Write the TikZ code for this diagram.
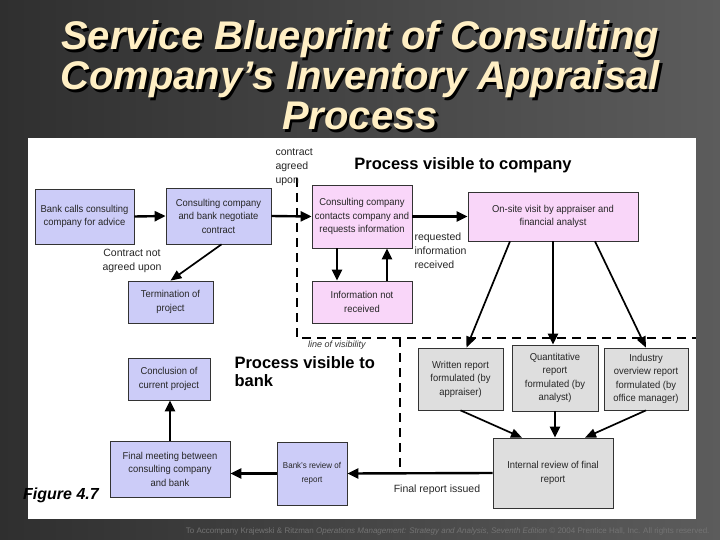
\documentclass[tikz,border=0pt]{standalone}
\usepackage{fontspec}
\setmainfont{Liberation Sans}
\newfontfamily\boxfont[FakeStretch=0.94]{Liberation Sans}
\usetikzlibrary{arrows.meta}
\definecolor{bluebox}{HTML}{CCCCF8}
\definecolor{pinkbox}{HTML}{F9D6F9}
\definecolor{graybox}{HTML}{DEDEDE}
\definecolor{titlecream}{HTML}{FFEFC4}
\definecolor{slidedark}{HTML}{2F2F2F}
\definecolor{slidelight}{HTML}{5C5C5C}
\tikzset{
  proc/.style={draw=black!80, line width=0.7pt, align=center, inner sep=0pt,
    font=\boxfont\fontsize{10}{13.5}\selectfont, text=black!85},
  boxsize/.style 2 args={minimum width=#1, minimum height=#2},
  bankproc/.style={proc, fill=bluebox},
  compproc/.style={proc, fill=pinkbox},
  backproc/.style={proc, fill=graybox},
  flow/.style={line width=2.4pt, -{Triangle[length=11pt,width=10pt]}},
  slantflow/.style={line width=1.7pt, -{Triangle[length=11pt,width=9pt]}},
  visline/.style={line width=1.8pt, dash pattern=on 9pt off 6pt},
  tag/.style={font=\fontsize{10.5}{14}\selectfont, text=black!85},
  heading/.style={font=\fontsize{16.5}{18}\selectfont\bfseries, align=left},
  titletext/.style={anchor=north, align=center,
    font=\fontsize{40}{40}\selectfont\bfseries\itshape},
}

\begin{document}
\begin{tikzpicture}[x=1pt,y=-1pt]
        \useasboundingbox (0,0) rectangle (720,540);
        \shade[left color=slidedark, right color=slidelight] (0,0) rectangle (720,540);
        \fill[white] (28,138) rectangle (696,519);

        \node[titletext, text=black] (titleshadow) at (362.5,19.5) {Service Blueprint of Consulting\\Company’s Inventory Appraisal\\Process};
        \node[titletext, text=titlecream] (title) at (360,17) {Service Blueprint of Consulting\\Company’s Inventory Appraisal\\Process};

        \coordinate (vistop) at (297,178);
        \coordinate (viscorner) at (297,338);
        \coordinate (visright) at (696,338);
        \coordinate (bankedge) at (400,338);
        \coordinate (bankbottom) at (400,470);
        \draw[visline] (vistop) -- (viscorner) -- (visright);
        \draw[visline] (bankedge) -- (bankbottom);

        \node[bankproc, boxsize={99pt}{55pt}] (bankcalls) at (84.5,216.5) {Bank calls consulting\\company for advice};
        \node[bankproc, boxsize={105pt}{56pt}] (negotiate) at (218.5,216) {Consulting company\\and bank negotiate\\contract};
        \node[bankproc, boxsize={85pt}{42pt}] (termination) at (170.5,302) {Termination of\\project};
        \node[compproc, boxsize={100pt}{63pt}] (contacts) at (362,216.5) {Consulting company\\contacts company and\\requests information};
        \node[compproc, boxsize={100pt}{42pt}] (notreceived) at (362,302) {Information not\\received};
        \node[compproc, boxsize={170pt}{49pt}] (onsite) at (553,216.5) {On-site visit by appraiser and\\financial analyst};
        \node[backproc, boxsize={85pt}{62pt}] (written) at (460.5,379) {Written report\\formulated (by\\appraiser)};
        \node[backproc, boxsize={86pt}{66pt}] (quant) at (555,378) {Quantitative\\report\\formulated (by\\analyst)};
        \node[backproc, boxsize={84pt}{62pt}] (industry) at (646,379) {Industry\\overview report\\formulated (by\\office manager)};
        \node[backproc, boxsize={120pt}{70pt}] (internal) at (553,473) {Internal review of final\\report};
        \node[bankproc, boxsize={82pt}{42pt}] (conclusion) at (169,379) {Conclusion of\\current project};
        \node[bankproc, boxsize={120pt}{56pt}] (finalmeeting) at (170,469) {Final meeting between\\consulting company\\and bank};
        \node[bankproc, boxsize={70pt}{63pt}, font=\boxfont\fontsize{8.5}{13.5}\selectfont] (bankreview) at (312,473.5) {Bank’s review of\\report};

        \node[tag, anchor=north west, align=left] (agreed) at (272,145) {contract\\agreed\\upon};
        \node[tag, align=center] (notagreed) at (132,261) {Contract not\\agreed upon};
        \node[tag, anchor=west, align=left] (received) at (411,251) {requested\\information\\received};
        \node[tag, anchor=north] (issued) at (437,481) {Final report issued};
        \node[font=\fontsize{9}{10}\selectfont\itshape, text=black!80] (vislabel) at (337,345) {line of visibility};
        \node[heading] (compview) at (463,165) {Process visible to company};
        \node[heading, anchor=west] (bankview) at (231,372) {Process visible to\\bank};
        \node[font=\fontsize{16}{18}\selectfont\bfseries\itshape] (figno) at (61,495) {Figure 4.7};
        \node[anchor=east, text=black!55, font=\fontsize{8}{9}\selectfont] (footer) at (713,531) {To Accompany Krajewski \& Ritzman \textit{Operations Management: Strategy and Analysis, Seventh Edition} © 2004 Prentice Hall, Inc. All rights reserved.};

        \draw[flow] (bankcalls.east) -- (negotiate.west);
        \draw[slantflow] ([xshift=3pt]negotiate.south) -- (termination.north);
        \draw[flow] (negotiate.east) -- (contacts.west);
        \draw[flow] (contacts.east) -- (onsite.west);
        \draw[flow] ([xshift=-25pt]contacts.south) -- ([xshift=-25pt]notreceived.north);
        \draw[flow] ([xshift=25pt]notreceived.north) -- ([xshift=25pt]contacts.south);
        \draw[slantflow] ([xshift=-43pt]onsite.south) -- ([xshift=6pt]written.north);
        \draw[flow] (onsite.south) -- (onsite.south |- quant.north);
        \draw[slantflow] ([xshift=42pt]onsite.south) -- (industry.north);
        \draw[slantflow] (written.south) -- ([xshift=-31pt]internal.north);
        \draw[flow] (quant.south) -- (quant.south |- internal.north);
        \draw[slantflow] (industry.south) -- ([xshift=32pt]internal.north);
        \draw[flow] (internal.west) -- (bankreview.east);
        \draw[flow] (bankreview.west) -- (bankreview.west -| finalmeeting.east);
        \draw[flow] (finalmeeting.north) -- (finalmeeting.north |- conclusion.south);
    \end{tikzpicture}
\end{document}
